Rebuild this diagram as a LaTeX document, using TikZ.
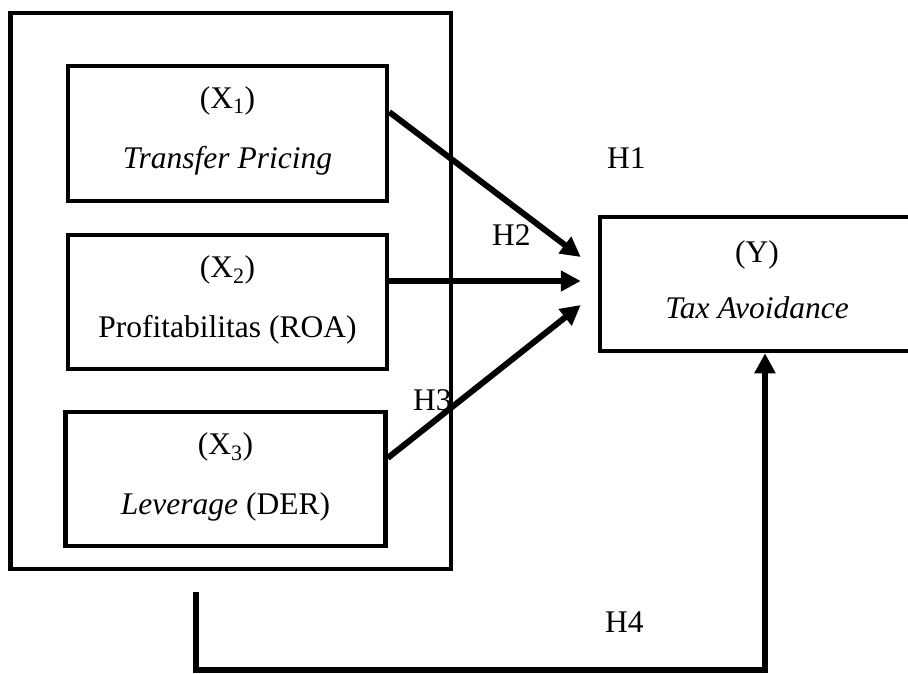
\documentclass[tikz,border=0pt]{standalone}
\usepackage{fontspec}
\setmainfont{Liberation Serif}
\usetikzlibrary{arrows.meta}
\begin{document}
\begin{tikzpicture}[x=1pt,y=-1pt,
  box/.style={draw=black, line width=4.5pt, rectangle, inner sep=0pt, line join=miter},
  txt/.style={inner sep=0pt, anchor=base, font=\fontsize{31.5}{38}\selectfont},
  hlab/.style={inner sep=0pt, anchor=base west, font=\fontsize{31.5}{38}\selectfont},
  arr/.style={line width=6pt, -{Triangle[length=20pt,width=20pt]}}]
\clip (0,0) rectangle (908,673);
% outer group box
\node[box, minimum width=440.5pt, minimum height=556pt] (G) at (230.75,291) {};
% inner boxes
\node[box, minimum width=319pt, minimum height=135pt] (X1) at (227.5,133.5) {};
\node[box, minimum width=319pt, minimum height=134pt] (X2) at (227.5,302) {};
\node[box, minimum width=320pt, minimum height=134pt] (X3) at (225.5,479) {};
\node[box, minimum width=314pt, minimum height=134pt] (Y) at (757,284) {};
% texts
\node[txt] (x1a) at ([yshift=25.5pt]X1.center) {(X\textsubscript{1})};
\node[txt] (x1b) at ([yshift=-34.5pt]X1.center) {\itshape Transfer Pricing};
\node[txt] (x2a) at ([yshift=25pt]X2.center) {(X\textsubscript{2})};
\node[txt] (x2b) at ([yshift=-35pt]X2.center) {Profitabilitas (ROA)};
\node[txt] (x3a) at ([yshift=25pt]X3.center) {(X\textsubscript{3})};
\node[txt] (x3b) at ([yshift=-35pt]X3.center) {\textit{Leverage} (DER)};
\node[txt] (ya) at ([yshift=22pt]Y.center) {(Y)};
\node[txt] (yb) at ([yshift=-34pt]Y.center) {\itshape Tax Avoidance};
% hypothesis labels
\node[hlab] (H1) at (607,168) {H1};
\node[hlab] (H2) at (492,245) {H2};
\node[hlab] (H3) at (413,410) {H3};
\node[hlab] (H4) at (605,632) {H4};
% arrows
\draw[arr] ([yshift=21.5pt]X1.east) -- ([xshift=-17pt,yshift=27pt]Y.west);
\draw[arr] ([yshift=21pt]X2.east) -- ([xshift=-17pt,yshift=3pt]Y.west);
\draw[arr] ([yshift=21pt]X3.east) -- ([xshift=-17pt,yshift=-21pt]Y.west);
\coordinate (h4s) at (196,592);
\coordinate (h4c) at (765,670);
\draw[arr] (h4s) |- (h4c) -- (h4c |- Y.south);
\end{tikzpicture}
\end{document}
